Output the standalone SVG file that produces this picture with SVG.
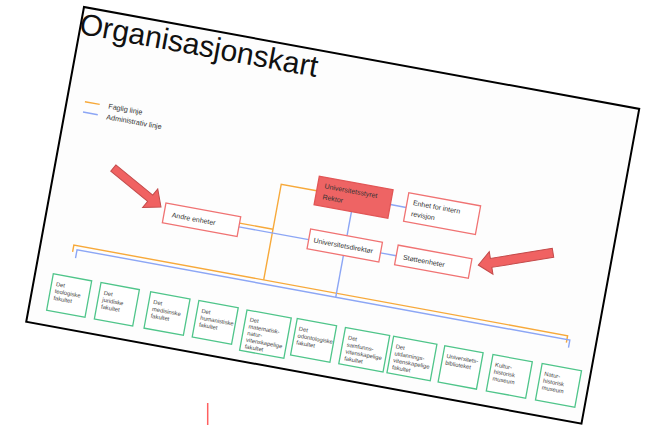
<svg xmlns="http://www.w3.org/2000/svg" width="649" height="425" viewBox="0 0 649 425">
<defs>
<style>
.slide{fill:#fdfdfd;stroke:#000;stroke-width:2}
.title{font-family:"Liberation Sans",Arial,sans-serif;font-size:30px;fill:#111}
.leg{font-family:"Liberation Sans",Arial,sans-serif;font-size:7.2px;fill:#333}
.nt{font-family:"Liberation Sans",Arial,sans-serif;font-size:7px;fill:#333}
.ft{font-family:"Liberation Sans",Arial,sans-serif;font-size:5.8px;fill:#444}
.rbox{fill:#fff;stroke:#f07373;stroke-width:1.3}
.rfill{fill:#ee6464;stroke:#e25656;stroke-width:1.3}
.gbox{fill:#fff;stroke:#4fc58a;stroke-width:1.3}
.or{fill:none;stroke:#f7a93a;stroke-width:1.4}
.bl{fill:none;stroke:#8ca6f5;stroke-width:1.4}
.arrow{fill:#f06262;stroke:#c34a4a;stroke-width:1}
</style>
</defs>
<g transform="translate(84 7) rotate(10.4)">
<rect class="slide" x="0" y="0" width="564.5" height="320"/>
<text class="title" x="-1" y="27">Organisasjonskart</text>
<g id="legend">
<line class="or" x1="18" y1="93" x2="33" y2="93"/>
<line class="bl" x1="18" y1="103.5" x2="33" y2="103.5"/>
<text class="leg" x="42" y="95.5">Faglig linje</text>
<text class="leg" x="42" y="106.3">Administrativ linje</text>
</g>
<g id="connectors">
<path class="or" d="M262 138.7 H226 V236"/>
<path class="or" d="M192 184.5 H226"/>
<path class="or" d="M33 243 V236 H535 V243"/>
<path class="bl" d="M192 188.3 H263"/>
<path class="bl" d="M300 153 V177.5"/>
<path class="bl" d="M300 197.5 V240"/>
<path class="bl" d="M337 139 H353"/>
<path class="bl" d="M336 188.3 H352"/>
<path class="bl" d="M37 248.5 V240 H538 V247.5"/>
</g>
<g id="n-styret">
<rect class="rfill" x="262" y="124" width="75" height="29"/>
<text class="nt" x="269" y="135">Universitetsstyret</text>
<text class="nt" x="269" y="146">Rektor</text>
</g>
<g id="n-revisjon">
<rect class="rbox" x="353" y="124" width="73" height="29"/>
<text class="nt" x="359" y="135.5">Enhet for intern</text>
<text class="nt" x="359" y="146.5">revisjon</text>
</g>
<g id="n-andre">
<rect class="rbox" x="116" y="178" width="76" height="20"/>
<text class="nt" x="124" y="191">Andre enheter</text>
</g>
<g id="n-direktor">
<rect class="rbox" x="263" y="177.5" width="73" height="20"/>
<text class="nt" x="268" y="190.3">Universitetsdirektør</text>
</g>
<g id="n-stotte">
<rect class="rbox" x="352" y="177.5" width="75" height="20"/>
<text class="nt" x="359" y="190.8">Støtteenheter</text>
</g>
<g id="f1"><rect class="gbox" x="18" y="268" width="39" height="37"/>
<text class="ft" x="22.5" y="279.5">Det</text><text class="ft" x="22.5" y="286.5">teologiske</text><text class="ft" x="22.5" y="293.5">fakultet</text></g>
<g id="f2"><rect class="gbox" x="66.5" y="268" width="39" height="37"/>
<text class="ft" x="71" y="279.5">Det</text><text class="ft" x="71" y="286.5">juridiske</text><text class="ft" x="71" y="293.5">fakultet</text></g>
<g id="f3"><rect class="gbox" x="117" y="268" width="40" height="37"/>
<text class="ft" x="121.5" y="279.5">Det</text><text class="ft" x="121.5" y="286.5">medisinske</text><text class="ft" x="121.5" y="293.5">fakultet</text></g>
<g id="f4"><rect class="gbox" x="166" y="268" width="40" height="37"/>
<text class="ft" x="170.5" y="279.5">Det</text><text class="ft" x="170.5" y="286.5">humanistiske</text><text class="ft" x="170.5" y="293.5">fakultet</text></g>
<g id="f5"><rect class="gbox" x="215" y="268.5" width="45" height="41"/>
<text class="ft" x="219.5" y="279.5">Det</text><text class="ft" x="219.5" y="286.3">matematisk-</text><text class="ft" x="219.5" y="293.1">natur-</text><text class="ft" x="219.5" y="299.9">vitenskapelige</text><text class="ft" x="219.5" y="306.7">fakultet</text></g>
<g id="f6"><rect class="gbox" x="266" y="268" width="40" height="37"/>
<text class="ft" x="269.5" y="279.5">Det</text><text class="ft" x="269.5" y="286.5">odontologiske</text><text class="ft" x="269.5" y="293.5">fakultet</text></g>
<g id="f7"><rect class="gbox" x="315" y="268" width="45" height="37"/>
<text class="ft" x="319.5" y="279.5">Det</text><text class="ft" x="319.5" y="286.5">samfunns-</text><text class="ft" x="319.5" y="293.5">vitenskapelige</text><text class="ft" x="319.5" y="300.5">fakultet</text></g>
<g id="f8"><rect class="gbox" x="364" y="268" width="44" height="37"/>
<text class="ft" x="368" y="279.5">Det</text><text class="ft" x="368" y="286.5">utdannings-</text><text class="ft" x="368" y="293.5">vitenskapelige</text><text class="ft" x="368" y="300.5">fakultet</text></g>
<g id="f9"><rect class="gbox" x="416" y="268" width="39" height="37"/>
<text class="ft" x="419.5" y="279.5">Universitets-</text><text class="ft" x="419.5" y="286.5">biblioteket</text></g>
<g id="f10"><rect class="gbox" x="465" y="268" width="40" height="37"/>
<text class="ft" x="469" y="279.5">Kultur-</text><text class="ft" x="469" y="286.5">historisk</text><text class="ft" x="469" y="293.5">museum</text></g>
<g id="f11"><rect class="gbox" x="515" y="268" width="40" height="37"/>
<text class="ft" x="519" y="279.5">Natur-</text><text class="ft" x="519" y="286.5">historisk</text><text class="ft" x="519" y="293.5">museum</text></g>
</g>
<g id="arrow-left" transform="translate(113.3 168) rotate(39.3)">
<polygon class="arrow" points="0,-4 47.7,-4 47.7,-11.9 61.6,0 47.7,11.9 47.7,4 0,4"/>
</g>
<g id="arrow-right" transform="translate(553 252.8) rotate(170.7)">
<polygon class="arrow" points="0,-4.5 62.7,-4.5 62.7,-11.4 75.7,0 62.7,11.4 62.7,4.5 0,4.5"/>
</g>
<line x1="207.7" y1="403" x2="207.7" y2="425" stroke="#ff6060" stroke-width="1.5"/>
</svg>
